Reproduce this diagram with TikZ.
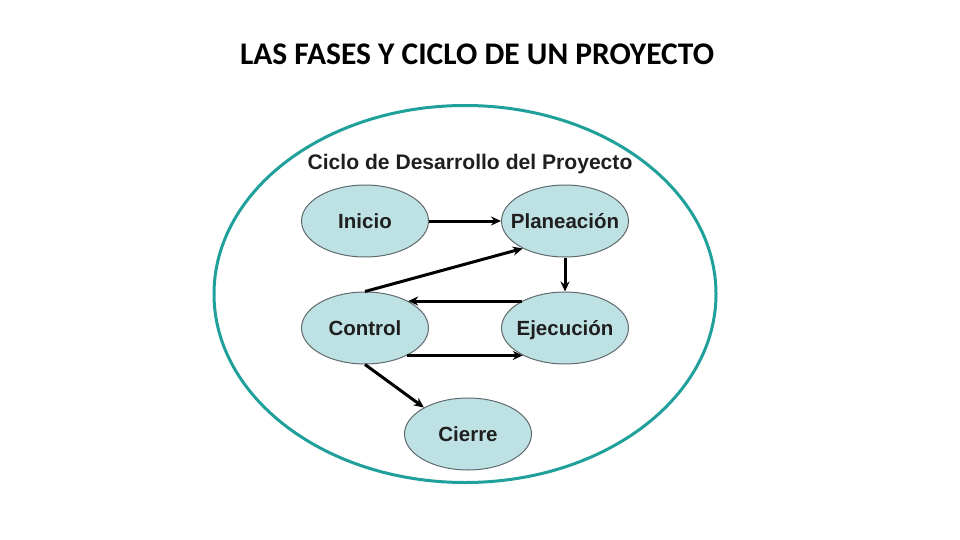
\documentclass[tikz,border=0pt]{standalone}
\usepackage{fontspec}
\setmainfont{Liberation Sans}
\newfontfamily\titlefont{Carlito}
\usetikzlibrary{arrows.meta,shapes.geometric}
\definecolor{tealring}{RGB}{32,160,155}
\definecolor{phasefill}{RGB}{190,225,228}
\definecolor{phaseline}{RGB}{95,105,108}
\newcommand\phtext[1]{\makebox[0pt]{#1}}
\tikzset{
  phase/.style={ellipse, draw=phaseline, line width=1pt, fill=phasefill,
    minimum width=127pt, minimum height=72pt, inner sep=0pt,
    text height=14.7pt, text depth=0pt,
    font=\fontsize{20.5}{24}\selectfont\bfseries, text=black!88},
  flow/.style={line width=3pt, -{Stealth[length=10pt,width=9pt]}},
}
\begin{document}
\begin{tikzpicture}[x=1pt,y=-1pt]
\useasboundingbox (0,0) rectangle (960,540);
\node[font=\titlefont\fontsize{31.5}{36}\selectfont\bfseries, anchor=base] (title) at (477,65) {LAS FASES Y CICLO DE UN PROYECTO};
\node[ellipse, draw=tealring, line width=3pt, minimum width=502pt, minimum height=377pt, inner sep=0pt] (ring) at (465,294) {};
\node[font=\fontsize{21.1}{24}\selectfont\bfseries, text=black!88] (sub) at (470,164) {Ciclo de Desarrollo del Proyecto};
\node[phase] (in) at (365,221) {\phtext{Inicio}};
\node[phase] (pl) at (565,221) {\phtext{Planeación}};
\node[phase] (co) at (365,328) {\phtext{Control}};
\node[phase] (ej) at (565,328) {\phtext{Ejecución}};
\node[phase] (ci) at (468,434) {\phtext{Cierre}};
\draw[flow] (in.east) -- (pl.west);
\draw[flow] (pl.south) -- (ej.north);
\draw[flow] (co.north) -- (pl.213);
\draw[flow] (ej.148) -- (co.32);
\draw[flow] (co.-33) -- (ej.-147);
\draw[flow] (co.south) -- (ci.149);
\end{tikzpicture}
\end{document}
